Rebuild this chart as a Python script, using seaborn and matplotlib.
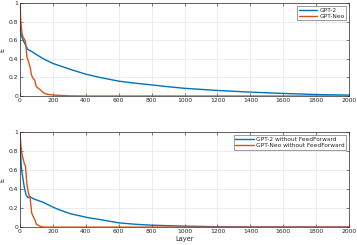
import matplotlib
matplotlib.use("Agg")
import matplotlib.pyplot as plt
import seaborn as sns
import pandas as pd

# Top panel data
gpt2_x = [0, 3, 8, 17, 27, 48, 79, 100, 142, 200, 250, 308, 400, 485, 600, 700, 800, 900, 1000, 1200, 1400, 1600, 1800, 2000]
gpt2_y = [0.76, 0.70, 0.65, 0.61, 0.57, 0.50, 0.47, 0.445, 0.40, 0.35, 0.32, 0.285, 0.235, 0.20, 0.16, 0.138, 0.12, 0.10, 0.083, 0.06, 0.042, 0.028, 0.016, 0.01]
neo_x = [0, 5, 12, 17, 27, 33, 38, 42, 48, 58, 63, 69, 79, 90, 96, 100, 121, 142, 162, 204, 300, 400, 2000]
neo_y = [1.0, 0.80, 0.68, 0.64, 0.61, 0.59, 0.50, 0.42, 0.39, 0.33, 0.30, 0.23, 0.19, 0.17, 0.12, 0.10, 0.07, 0.036, 0.02, 0.01, 0.002, 0.0, 0.0]

# Bottom panel data
gpt2_noff_x = [0, 3, 6, 10, 17, 27, 37, 48, 62, 79, 110, 142, 200, 250, 308, 412, 485, 600, 700, 800, 1000, 1200, 1400, 2000]
gpt2_noff_y = [1.0, 0.82, 0.70, 0.60, 0.52, 0.41, 0.34, 0.31, 0.32, 0.30, 0.28, 0.26, 0.21, 0.175, 0.14, 0.10, 0.08, 0.045, 0.03, 0.02, 0.01, 0.004, 0.002, 0.0]
neo_noff_x = [0, 5, 12, 27, 33, 42, 50, 62, 71, 83, 90, 100, 121, 142, 2000]
neo_noff_y = [1.0, 0.86, 0.77, 0.66, 0.65, 0.45, 0.37, 0.30, 0.15, 0.10, 0.08, 0.03, 0.01, 0.0, 0.0]

xticks = list(range(0, 2001, 200))
yticks = [0, 0.2, 0.4, 0.6, 0.8, 1]
ytick_labels = ["0", "0.2", "0.4", "0.6", "0.8", "1"]

BLUE = "#0072BD"
ORANGE = "#D95319"

sns.set_style("ticks")
plt.rcParams['font.family'] = ['DejaVu Sans']

fig = plt.figure(figsize=(3.57, 2.45), dpi=100)
ax1 = fig.add_axes([0.056, 0.608, 0.922, 0.380])
ax2 = fig.add_axes([0.056, 0.073, 0.922, 0.388])

def style(ax):
    ax.set_xlim(0, 2000)
    ax.set_ylim(0, 1)
    ax.set_xticks(xticks)
    ax.set_xticklabels([str(t) for t in xticks])
    ax.set_yticks(yticks)
    ax.set_yticklabels(ytick_labels)
    ax.grid(True, color="#e6e6e6", linewidth=0.5)
    ax.set_axisbelow(True)
    ax.tick_params(direction="in", length=2, width=0.4, labelsize=4.3, pad=1.5,
                   top=True, right=True, colors="#262626")
    for s in ax.spines.values():
        s.set_linewidth(0.5)
        s.set_color("#262626")
    ax.set_ylabel("E", fontsize=4.8, labelpad=2)

df1 = pd.DataFrame({"x": gpt2_x, "y": gpt2_y})
df2 = pd.DataFrame({"x": neo_x, "y": neo_y})
sns.lineplot(data=df1, x="x", y="y", ax=ax1, color=BLUE, linewidth=1.0, label="GPT-2")
sns.lineplot(data=df2, x="x", y="y", ax=ax1, color=ORANGE, linewidth=1.0, label="GPT-Neo")
style(ax1)
ax1.set_xlabel("")

df3 = pd.DataFrame({"x": gpt2_noff_x, "y": gpt2_noff_y})
df4 = pd.DataFrame({"x": neo_noff_x, "y": neo_noff_y})
sns.lineplot(data=df3, x="x", y="y", ax=ax2, color=BLUE, linewidth=1.0, label="GPT-2 without FeedForward")
sns.lineplot(data=df4, x="x", y="y", ax=ax2, color=ORANGE, linewidth=1.0, label="GPT-Neo without FeedForward")
style(ax2)
ax2.set_xlabel("Layer", fontsize=4.8, labelpad=1)

for ax in (ax1, ax2):
    leg = ax.legend(loc="upper right", fontsize=4.2, frameon=True, fancybox=False,
                    borderpad=0.3, handlelength=3.2, handletextpad=0.3, labelspacing=0.15,
                    borderaxespad=0.5)
    leg.get_frame().set_edgecolor("#262626")
    leg.get_frame().set_linewidth(0.4)

fig.savefig("out.png", dpi=100)
